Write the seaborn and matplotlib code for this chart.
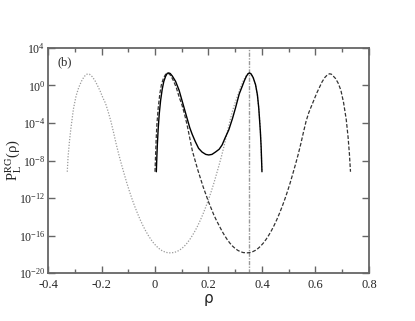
import numpy as np
import pandas as pd
import matplotlib
matplotlib.use("Agg")
import matplotlib.pyplot as plt
import seaborn as sns

# log10 of P, one list per curve
rho_dotted = [-0.328, -0.325, -0.320, -0.315, -0.305, -0.295, -0.285, -0.275, -0.265, -0.255,
              -0.250, -0.245, -0.235, -0.225, -0.215, -0.205, -0.195, -0.185, -0.175, -0.165,
              -0.155, -0.145, -0.135, -0.125, -0.115, -0.105, -0.095, -0.085, -0.075, -0.065,
              -0.055, -0.045, -0.035, -0.025, -0.015, -0.005, 0.005, 0.015, 0.025, 0.035,
              0.045, 0.055, 0.070, 0.080, 0.090, 0.100, 0.110, 0.120, 0.130, 0.140,
              0.150, 0.160, 0.170, 0.180, 0.190, 0.200, 0.210, 0.220, 0.230, 0.240,
              0.250, 0.260, 0.270, 0.280, 0.290, 0.300, 0.310, 0.320, 0.330, 0.340,
              0.347, 0.353, 0.360, 0.368, 0.376, 0.382, 0.388, 0.393, 0.396, 0.398, 0.400]
logp_dotted = [-9.2, -7.6, -6.0, -4.7, -2.5, -1.1, -0.2, 0.45, 0.95, 1.2,
               1.22, 1.2, 0.95, 0.55, 0.0, -0.6, -1.3, -1.9, -2.8, -3.81,
               -5.0, -6.25, -7.4, -8.45, -9.45, -10.43, -11.33, -12.17, -12.95, -13.67,
               -14.34, -14.95, -15.5, -15.99, -16.43, -16.81, -17.13, -17.39, -17.59, -17.73,
               -17.82, -17.85, -17.82, -17.73, -17.59, -17.39, -17.13, -16.81, -16.43, -15.99,
               -15.5, -14.95, -14.34, -13.67, -12.95, -12.17, -11.33, -10.43, -9.45, -8.45,
               -7.4, -6.25, -5.0, -3.81, -2.7, -1.8, -1.0, -0.2, 0.5, 1.0,
               1.25, 1.3, 1.2, 0.8, 0.09, -0.9, -2.4, -4.2, -6.0, -7.6, -9.2]

rho_dashed = [0.000, 0.002, 0.004, 0.007, 0.012, 0.018, 0.024, 0.032, 0.040, 0.047,
              0.053, 0.060, 0.070, 0.080, 0.090, 0.100, 0.110, 0.120, 0.130, 0.140,
              0.150, 0.160, 0.170, 0.180, 0.190, 0.200, 0.210, 0.220, 0.230, 0.240,
              0.250, 0.260, 0.270, 0.280, 0.290, 0.300, 0.310, 0.320, 0.330, 0.345,
              0.355, 0.365, 0.375, 0.385, 0.395, 0.405, 0.415, 0.425, 0.435, 0.445,
              0.455, 0.465, 0.475, 0.485, 0.495, 0.505, 0.515, 0.525, 0.535, 0.545,
              0.555, 0.565, 0.575, 0.585, 0.595, 0.605, 0.615, 0.625, 0.635, 0.645,
              0.653, 0.660, 0.665, 0.675, 0.685, 0.695, 0.705, 0.715, 0.722, 0.727, 0.731]
logp_dashed = [-9.2, -7.6, -6.0, -4.2, -2.4, -0.9, 0.09, 0.8, 1.2, 1.28,
               1.25, 1.0, 0.45, -0.25, -1.2, -2.0, -3.0, -4.2, -5.6, -7.0,
               -8.0, -9.0, -9.9, -10.8, -11.6, -12.4, -13.1, -13.8, -14.4, -14.95,
               -15.5, -15.99, -16.43, -16.81, -17.13, -17.39, -17.59, -17.73, -17.82, -17.85,
               -17.82, -17.73, -17.59, -17.39, -17.13, -16.81, -16.43, -15.99, -15.5, -14.95,
               -14.34, -13.67, -12.95, -12.17, -11.33, -10.43, -9.45, -8.45, -7.4, -6.25,
               -5.0, -3.81, -2.9, -2.2, -1.5, -0.8, -0.2, 0.4, 0.85, 1.15,
               1.25, 1.2, 1.05, 0.75, 0.25, -0.5, -1.8, -3.6, -5.5, -7.3, -9.2]

rho_solid = [0.005, 0.007, 0.009, 0.012, 0.016, 0.021, 0.027, 0.033, 0.040, 0.046,
             0.051, 0.057, 0.065, 0.077, 0.090, 0.100, 0.108, 0.120, 0.130, 0.139,
             0.151, 0.163, 0.176, 0.190, 0.201, 0.213, 0.226, 0.240, 0.251, 0.262,
             0.276, 0.290, 0.301, 0.315, 0.326, 0.334, 0.342, 0.348, 0.353, 0.359,
             0.367, 0.376, 0.383, 0.388, 0.394, 0.397, 0.400]
logp_solid = [-9.2, -7.6, -6.2, -4.6, -3.0, -1.6, -0.4, 0.44, 1.0, 1.3,
              1.34, 1.28, 1.0, 0.44, -0.5, -1.5, -2.3, -3.5, -4.5, -5.2,
              -6.0, -6.7, -7.1, -7.35, -7.41, -7.35, -7.1, -6.8, -6.34, -5.6,
              -4.73, -3.5, -2.4, -0.9, -0.1, 0.5, 1.0, 1.25, 1.34, 1.25,
              0.85, 0.09, -1.0, -2.4, -4.9, -6.6, -9.2]

rho_star = 0.353

x_ticks = [-0.4, -0.2, 0.0, 0.2, 0.4, 0.6, 0.8]
x_tick_labels = ["-0.4", "-0.2", "0", "0.2", "0.4", "0.6", "0.8"]
y_ticks = [1e4, 1e0, 1e-4, 1e-8, 1e-12, 1e-16, 1e-20]

sns.set_style("ticks")
plt.rcParams["font.family"] = ["Liberation Serif", "DejaVu Serif"]
plt.rcParams["mathtext.fontset"] = "stix"

df_dot = pd.DataFrame({"rho": rho_dotted, "P": np.power(10.0, logp_dotted)})
df_dash = pd.DataFrame({"rho": rho_dashed, "P": np.power(10.0, logp_dashed)})
df_solid = pd.DataFrame({"rho": rho_solid, "P": np.power(10.0, logp_solid)})

fig = plt.figure(figsize=(4.15, 3.21), dpi=100)
ax = fig.add_axes([0.1157, 0.1495, 0.7733, 0.701])

ax.axvline(rho_star, color="#9a9a9a", lw=1.0, ls=(0, (3, 1, 1, 1)))
sns.lineplot(data=df_dot, x="rho", y="P", sort=False, estimator=None, ax=ax,
             color="#9a9a9a", lw=0.9, linestyle=(0, (1, 1.3)))
sns.lineplot(data=df_dash, x="rho", y="P", sort=False, estimator=None, ax=ax,
             color="#333333", lw=0.9, linestyle=(0, (3, 1.5)))
sns.lineplot(data=df_solid, x="rho", y="P", sort=False, estimator=None, ax=ax,
             color="black", lw=1.0)

ax.set_yscale("log")
ax.set_xlim(-0.4, 0.8)
ax.set_ylim(1e-20, 1e4)
ax.set_yticks(y_ticks)
ax.yaxis.set_minor_locator(matplotlib.ticker.NullLocator())
ax.set_xticks(x_ticks)
ax.set_xticklabels(x_tick_labels)
ax.xaxis.set_minor_locator(matplotlib.ticker.MultipleLocator(0.1))

ax.tick_params(which="both", direction="in", top=True, right=True, color="#666666")
ax.tick_params(axis="x", pad=4, labelsize=9)
ax.tick_params(axis="y", pad=2, labelsize=8.5)
ax.tick_params(which="major", length=5, width=1.0)
ax.tick_params(which="minor", length=3, width=1.0)
for sp in ax.spines.values():
    sp.set_color("#666666")
    sp.set_linewidth(1.3)

ax.set_xlabel("ρ", fontsize=11, family="DejaVu Sans", labelpad=0)
ax.set_ylabel(r"P$_\mathrm{L}^\mathrm{RG}$(ρ)", fontsize=10.5)
ax.yaxis.set_label_coords(-0.076, 0.5)
ax.text(0.03, 0.935, "(b)", transform=ax.transAxes, fontsize=9, va="center")

fig.savefig("out.png", dpi=100)
